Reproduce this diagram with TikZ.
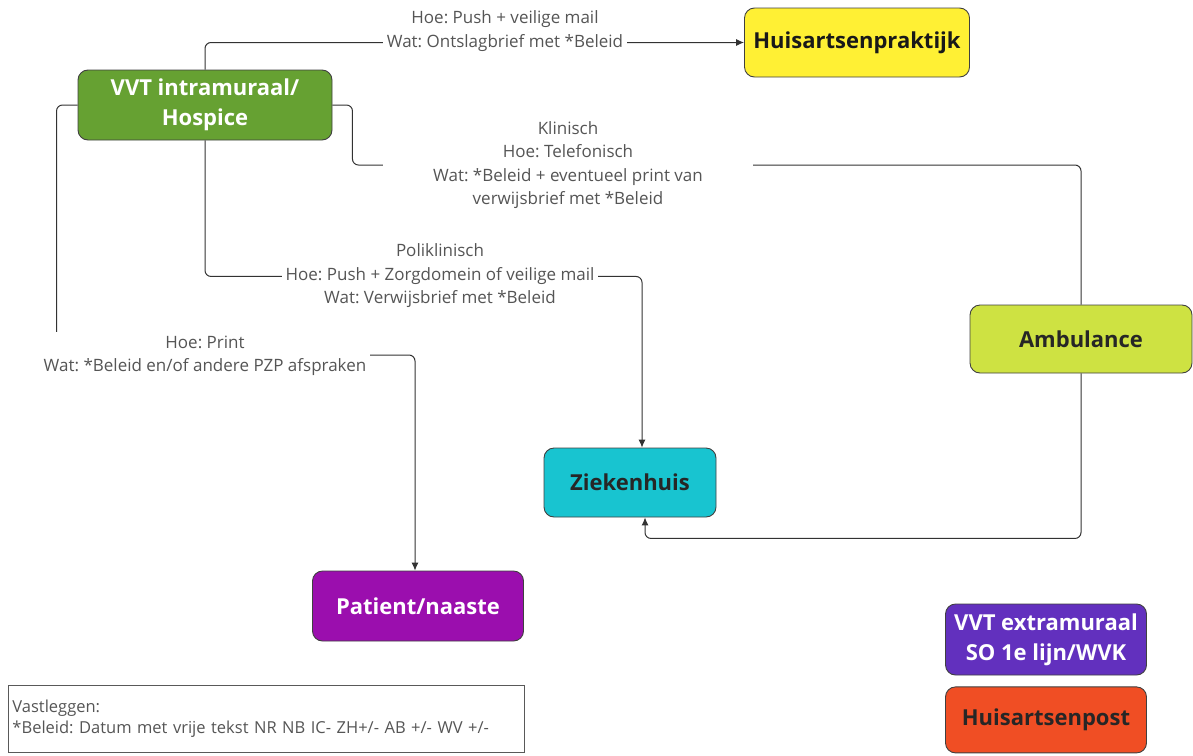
\documentclass[tikz,border=0pt]{standalone}
\usepackage{fontspec}
\setmainfont{Open Sans}
\frenchspacing
\usetikzlibrary{arrows.meta,positioning}
\definecolor{groen}{RGB}{102,161,50}
\definecolor{geel}{RGB}{255,240,52}
\definecolor{limoen}{RGB}{206,226,66}
\definecolor{cyaan}{RGB}{24,196,208}
\definecolor{paars}{RGB}{155,14,174}
\definecolor{indigo}{RGB}{98,48,190}
\definecolor{oranje}{RGB}{240,78,36}
\definecolor{lijnkleur}{RGB}{50,50,50}
\definecolor{tekstgrijs}{RGB}{85,85,85}

\begin{document}
\begin{tikzpicture}[x=1pt,y=-1pt]
\tikzset{
  blok/.style={draw=black!75,line width=0.9pt,rounded corners=10pt,align=center,
    font=\fontsize{22}{30}\selectfont\bfseries,inner sep=2pt},
  lbl/.style={fill=white,text=tekstgrijs,align=center,inner sep=4pt,
    font=\fontsize{17}{23.5}\selectfont},
  lijn/.style={draw=lijnkleur,line width=1pt,rounded corners=6pt},
  pijl/.style={lijn,-{Latex[length=8pt,width=7pt]}}
}
\useasboundingbox (0,0) rectangle (1193,755);

\node[blok,fill=groen,text=white,minimum width=254,minimum height=70] (vvt) at (205,105) {VVT intramuraal/\\Hospice};
\node[blok,fill=geel,text=black!90,minimum width=225,minimum height=69] (hap) at (857,42.5) {Huisartsenpraktijk};
\node[blok,fill=limoen,text=black!85,minimum width=222,minimum height=68] (amb) at (1081,339) {Ambulance};
\node[blok,fill=cyaan,text=black!85,minimum width=172,minimum height=69] (zkh) at (630,482.5) {Ziekenhuis};
\node[blok,fill=paars,text=white,minimum width=211,minimum height=70] (pat) at (418,606) {Patient/naaste};
\node[blok,fill=indigo,text=white,minimum width=201,minimum height=71] (vvtx) at (1046,639.5) {VVT extramuraal\\SO 1e lijn/WVK};
\node[blok,fill=oranje,text=black!85,minimum width=201,minimum height=66,below=11pt of vvtx] (hpost) {Huisartsenpost};

% verbindingen
\draw[pijl] (vvt.north) |- (hap.west);
\draw[lijn] (vvt.east) -| ++(20,60) -| (amb.north);
\draw[pijl] (amb.south) -- ++(0,165) -| ([xshift=15pt]zkh.south);
\draw[pijl] (vvt.south) -- ++(0,136) -| ([xshift=12pt]zkh.north);
\draw[pijl] (vvt.west) -| ++(-21,250) -| ([xshift=-3pt]pat.north);

% labels over de lijnen
\node[lbl] (l-hap) at (505,31) {Hoe: Push + veilige mail\\Wat: Ontslagbrief met *Beleid};
\node[lbl,minimum width=370] (l-klin) at (568,165) {Klinisch\\Hoe: Telefonisch\\Wat: *Beleid + eventueel print van\\verwijsbrief met *Beleid};
\node[lbl] (l-poli) at (440,276) {Poliklinisch\\Hoe: Push + Zorgdomein of veilige mail\\Wat: Verwijsbrief met *Beleid};
\node[lbl] (l-print) at (205,356) {Hoe: Print\\Wat: *Beleid en/of andere PZP afspraken};

\node[draw=black!65,line width=0.9pt,anchor=north west,minimum width=516,minimum height=67,
  text width=508,align=left,inner sep=4pt,text=tekstgrijs,font=\fontsize{16.5}{21}\selectfont]
  (legenda) at (8,685) {Vastleggen:\\{*}Beleid: Datum met vrije tekst NR NB IC- ZH+/- AB +/- WV +/-};
\end{tikzpicture}
\end{document}
